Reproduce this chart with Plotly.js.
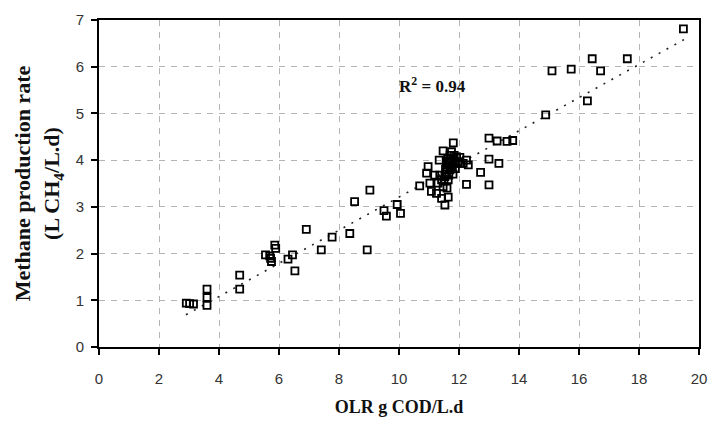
<!DOCTYPE html>
<html>
<head>
<meta charset="utf-8">
<script src="https://cdn.plot.ly/plotly-3.0.1.min.js"></script>
<style>
  html, body { margin: 0; padding: 0; background: #ffffff; }
  #chart { width: 710px; height: 423px; }
</style>
</head>
<body>
<div id="chart"></div>
<script>
// OLR (g COD/L.d) of each observation
const olr = [
  2.91, 3.02, 3.15, 3.6, 3.6, 3.6, 4.69, 4.69,
  5.55, 5.69, 5.72, 5.75, 5.86, 5.89, 6.3, 6.45, 6.53,
  6.91, 7.41, 7.77, 8.36, 8.52, 8.94, 9.03, 9.5, 9.58, 9.94, 10.05,
  10.69, 10.92, 10.97, 11.03, 11.08, 11.19, 11.25, 11.30, 11.36, 11.42,
  11.42, 11.47, 11.47, 11.34, 11.53, 11.53, 11.58, 11.58, 11.64, 11.64,
  11.70, 11.75, 11.75, 11.81, 11.81, 11.86, 11.92, 11.97, 12.03, 12.03,
  12.14, 12.25, 12.31, 12.25, 11.65, 11.70, 11.60, 11.80, 11.72,
  11.62, 11.68, 11.78, 11.66, 11.74, 11.55, 11.84, 11.50, 11.60, 11.88,
  12.72, 13.0, 13.33, 13.0, 13.0, 13.27, 13.6, 13.79,
  14.89, 15.1, 15.74, 16.28, 16.44, 16.72, 17.61, 19.48
];
// Methane production rate (L CH4/L.d) of each observation
const methane = [
  0.94, 0.93, 0.92, 1.24, 1.06, 0.89, 1.54, 1.24,
  1.97, 1.95, 1.90, 1.83, 2.18, 2.11, 1.88, 1.97, 1.63,
  2.52, 2.08, 2.35, 2.43, 3.11, 2.08, 3.36, 2.92, 2.80, 3.05, 2.86,
  3.45, 3.72, 3.86, 3.51, 3.33, 3.68, 3.29, 3.51, 3.68, 3.18,
  3.58, 3.43, 4.20, 4.00, 3.04, 3.65, 3.75, 3.97, 3.58, 3.21,
  3.79, 3.86, 4.18, 4.00, 4.37, 3.93, 4.07, 3.97, 4.06, 3.93,
  3.93, 4.00, 3.90, 3.48, 3.90, 4.10, 3.85, 3.70, 3.95,
  4.02, 3.98, 3.88, 3.68, 4.05, 3.80, 4.10, 3.55, 3.40, 3.82,
  3.74, 4.02, 3.93, 3.47, 4.47, 4.41, 4.40, 4.42,
  4.97, 5.91, 5.95, 5.27, 6.17, 5.91, 6.17, 6.81
];
// Linear trend line end points
const trendX = [2.9, 19.5];
const trendY = [0.69, 6.58];

const xTicks = [0, 2, 4, 6, 8, 10, 12, 14, 16, 18, 20];
const yTicks = [0, 1, 2, 3, 4, 5, 6, 7];

const serif = "Liberation Serif, 'Times New Roman', serif";
const sans = "Liberation Sans, Arial, sans-serif";

const traces = [
  {
    x: trendX, y: trendY, type: 'scatter', mode: 'lines',
    line: { color: '#222', width: 1.6, dash: '2px,7px' },
    hoverinfo: 'skip', showlegend: false
  },
  {
    x: olr, y: methane, type: 'scatter', mode: 'markers',
    marker: { symbol: 'square-open', size: 7, color: '#000', line: { width: 1.8, color: '#000' } },
    showlegend: false
  }
];

const layout = {
  width: 710, height: 423,
  margin: { l: 99, r: 11, t: 20, b: 76 },
  paper_bgcolor: '#fff', plot_bgcolor: '#fff',
  xaxis: {
    range: [0, 20], tickvals: xTicks, ticktext: xTicks.map(String),
    showgrid: true, gridcolor: '#b4b4b4', griddash: '6px,6px', gridwidth: 1,
    zeroline: false, showline: true, linecolor: '#000', linewidth: 2, mirror: true,
    ticks: 'outside', ticklen: 6, tickwidth: 2, tickcolor: '#000',
    ticklabelstandoff: 11,
    tickfont: { family: sans, size: 15, color: '#333' },
    title: { text: '<b>OLR g COD/L.d</b>', font: { family: serif, size: 18, color: '#111' }, standoff: 14 },
    automargin: false
  },
  yaxis: {
    range: [0, 7], tickvals: yTicks, ticktext: yTicks.map(String),
    showgrid: true, gridcolor: '#b4b4b4', griddash: '6px,6px', gridwidth: 1,
    zeroline: false, showline: true, linecolor: '#000', linewidth: 2, mirror: true,
    ticks: 'outside', ticklen: 6, tickwidth: 2, tickcolor: '#000',
    ticklabelstandoff: 4,
    tickfont: { family: sans, size: 15, color: '#333' },
    title: { text: '<b>Methane production rate<br>(L CH<sub>4</sub>/L.d)</b>', font: { family: serif, size: 22, color: '#111' }, standoff: 10 },
    automargin: false
  },
  annotations: [
    {
      x: 11.13, y: 5.61, xref: 'x', yref: 'y', showarrow: false,
      text: '<b>R<sup>2</sup> = 0.94</b>',
      font: { family: serif, size: 17, color: '#111' }
    }
  ]
};

Plotly.newPlot('chart', traces, layout, { displayModeBar: false, staticPlot: true });
</script>
</body>
</html>
